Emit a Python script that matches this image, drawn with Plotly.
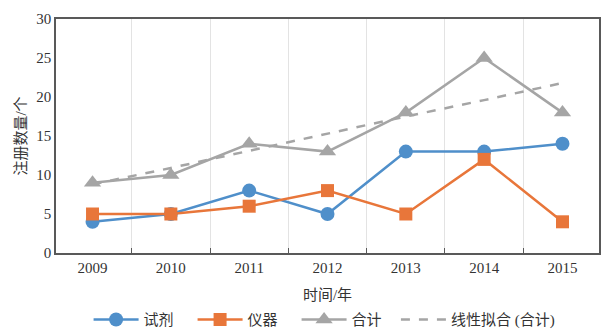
import plotly.graph_objects as go

years = ["2009", "2010", "2011", "2012", "2013", "2014", "2015"]
reagent = [4, 5, 8, 5, 13, 13, 14]
instrument = [5, 5, 6, 8, 5, 12, 4]
total = [9, 10, 14, 13, 18, 25, 18]
trend = [8.8, 10.9, 13.1, 15.3, 17.5, 19.6, 21.8]

names = ["试剂", "仪器", "合计", "线性拟合 (合计)"]
FONT = "Liberation Serif, Noto Sans CJK SC, serif"

fig = go.Figure()
fig.add_trace(go.Scatter(x=years, y=reagent, name=names[0], mode="lines+markers",
                         line=dict(color="#4f8fca", width=2.5),
                         marker=dict(symbol="circle", size=14, color="#4f8fca")))
fig.add_trace(go.Scatter(x=years, y=instrument, name=names[1], mode="lines+markers",
                         line=dict(color="#e8763a", width=2.5),
                         marker=dict(symbol="square", size=13, color="#e8763a")))
fig.add_trace(go.Scatter(x=years, y=total, name=names[2], mode="lines+markers",
                         line=dict(color="#a5a5a5", width=2.5),
                         marker=dict(symbol="triangle-up", size=15, color="#a5a5a5")))
fig.add_trace(go.Scatter(x=years, y=trend, name=names[3], mode="lines", legend="legend2",
                         line=dict(color="#a5a5a5", width=2.5, dash="dash")))

leg_common = dict(orientation="h", yanchor="middle", y=-0.285, xanchor="left",
                  font=dict(size=15, color="#333333"), itemwidth=45,
                  traceorder="normal", bgcolor="rgba(0,0,0,0)")

fig.update_layout(
    width=607, height=329,
    margin=dict(l=56, r=8, t=19, b=76, autoexpand=False),
    paper_bgcolor="white", plot_bgcolor="white",
    font=dict(family=FONT, size=15, color="#333333"),
    showlegend=True,
    legend=dict(x=0.06, entrywidth=44, **leg_common),
    legend2=dict(x=0.626, **leg_common),
)
fig.update_xaxes(type="category", tickson="boundaries", ticks="inside", ticklen=5,
                 tickcolor="#595959", showgrid=True, gridcolor="#e3e3e3", gridwidth=1,
                 showline=True, linecolor="#595959", linewidth=1.5, mirror=True,
                 automargin=False,
                 title=dict(text="时间/年", font=dict(size=15), standoff=15),
                 tickfont=dict(size=15))
fig.update_yaxes(range=[0, 30], dtick=5, showgrid=False, zeroline=False,
                 showline=True, linecolor="#595959", linewidth=1.5, mirror=True,
                 automargin=False, ticks="",
                 title=dict(text="注册数量/个", font=dict(size=15), standoff=6),
                 tickfont=dict(size=15))

fig.write_html("out.html")
